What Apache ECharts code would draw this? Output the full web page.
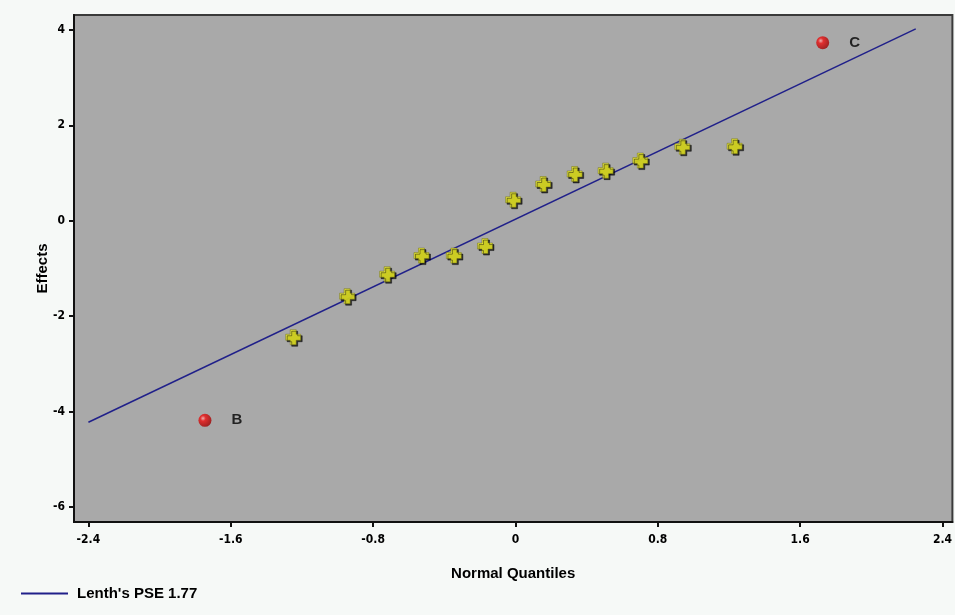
<!DOCTYPE html>
<html>
<head>
<meta charset="utf-8">
<script src="https://cdn.jsdelivr.net/npm/echarts@6/dist/echarts.min.js"></script>
<style>
html,body{margin:0;padding:0;background:#f6f9f7;}
#chart{width:955px;height:615px;}
</style>
</head>
<body>
<div id="chart"></div>
<script>
// Normal quantiles and effects (non-significant)
const quantiles = [-1.249, -0.946, -0.721, -0.528, -0.346, -0.171, -0.013, 0.156, 0.333, 0.507, 0.702, 0.938, 1.232];
const effects   = [-2.44, -1.58, -1.12, -0.73, -0.73, -0.53, 0.44, 0.77, 0.98, 1.05, 1.26, 1.55, 1.56];
// Significant effects
const sigLabels    = ['B', 'C'];
const sigQuantiles = [-1.745, 1.727];
const sigEffects   = [-4.18, 3.73];
// Lenth's PSE reference line endpoints
const lineX = [-2.4, 2.25];
const lineY = [-4.22, 4.02];
const lineName = "Lenth's PSE 1.77";
// Tick labels
const xTicks = [-2.4, -1.6, -0.8, 0, 0.8, 1.6, 2.4];
const yTicks = [-6, -4, -2, 0, 2, 4];

const font = "'Liberation Sans Narrow','DejaVu Sans Condensed','Liberation Sans',sans-serif";
const boldFont = "'Liberation Sans',Arial,sans-serif";
const crossPath = 'path://M3,0 L7,0 L7,3 L10,3 L10,7 L7,7 L7,10 L3,10 L3,7 L0,7 L0,3 L3,3 Z';

const chart = echarts.init(document.getElementById('chart'));
chart.setOption({
  animation: false,
  backgroundColor: '#f6f9f7',
  grid: {
    left: 74, right: 2, top: 15, bottom: 93,
    show: true,
    backgroundColor: '#a9a9a9',
    borderColor: '#3a3a3a',
    borderWidth: 2
  },
  legend: {
    left: 16, top: 581,
    data: [lineName],
    itemWidth: 47, itemHeight: 10, itemGap: 10,
    icon: 'path://M0,4 L46,4 L46,6 L0,6 Z',
    textStyle: { fontFamily: boldFont, fontWeight: 'bold', fontSize: 15, color: '#000', padding: [0, 0, 0, 4] }
  },
  xAxis: {
    type: 'value',
    min: -2.481, max: 2.456,
    name: 'Normal Quantiles',
    nameLocation: 'middle',
    nameGap: 44,
    nameMoveOverlap: false,
    nameTextStyle: { fontFamily: boldFont, fontWeight: 'bold', fontSize: 15, color: '#000' },
    axisLine: { onZero: false, lineStyle: { color: '#111', width: 2 } },
    axisTick: { show: true, length: 5, customValues: xTicks, lineStyle: { color: '#111', width: 2 } },
    axisLabel: { customValues: xTicks, margin: 12, fontFamily: font, fontWeight: 'bold', fontSize: 12, color: '#000',
      formatter: v => String(Math.round(v * 10) / 10) },
    splitLine: { show: false }
  },
  yAxis: {
    type: 'value',
    min: -6.31, max: 4.31,
    name: 'Effects',
    nameLocation: 'middle',
    nameGap: 24,
    nameMoveOverlap: false,
    nameRotate: 90,
    nameTextStyle: { fontFamily: boldFont, fontWeight: 'bold', fontSize: 15, color: '#000' },
    axisLine: { onZero: false, lineStyle: { color: '#111', width: 2 } },
    axisTick: { show: true, length: 5, customValues: yTicks, lineStyle: { color: '#111', width: 2 } },
    axisLabel: { customValues: yTicks, margin: 9, fontFamily: font, fontWeight: 'bold', fontSize: 12, color: '#000' },
    splitLine: { show: false }
  },
  series: [
    {
      name: lineName,
      type: 'line',
      data: lineX.map((x, i) => [x, lineY[i]]),
      symbol: 'none',
      lineStyle: { color: '#20208a', width: 1.5 },
      itemStyle: { color: '#20208a' },
      z: 2
    },
    {
      name: 'effects',
      type: 'scatter',
      data: quantiles.map((x, i) => [x, effects[i]]),
      symbol: crossPath,
      symbolSize: 15,
      itemStyle: {
        color: '#f4f420',
        borderColor: '#6a6a10',
        borderWidth: 0.6,
        shadowColor: 'rgba(0,0,0,0.9)',
        shadowBlur: 0,
        shadowOffsetX: 1.5,
        shadowOffsetY: 1.5
      },
      z: 3
    },
    {
      name: 'significant',
      type: 'scatter',
      data: sigQuantiles.map((x, i) => ({ value: [x, sigEffects[i]], name: sigLabels[i] })),
      symbol: 'circle',
      symbolSize: 13,
      itemStyle: {
        color: {
          type: 'radial', x: 0.35, y: 0.35, r: 0.7,
          colorStops: [
            { offset: 0, color: '#ffb0b0' },
            { offset: 0.3, color: '#ee1010' },
            { offset: 1, color: '#9a0000' }
          ]
        }
      },
      label: {
        show: true,
        position: 'right',
        distance: 20,
        formatter: p => p.name,
        fontFamily: boldFont,
        fontWeight: 'bold',
        fontSize: 15,
        color: '#000',
        textBorderWidth: 0
      },
      z: 4
    }
  ]
});
</script>
</body>
</html>
